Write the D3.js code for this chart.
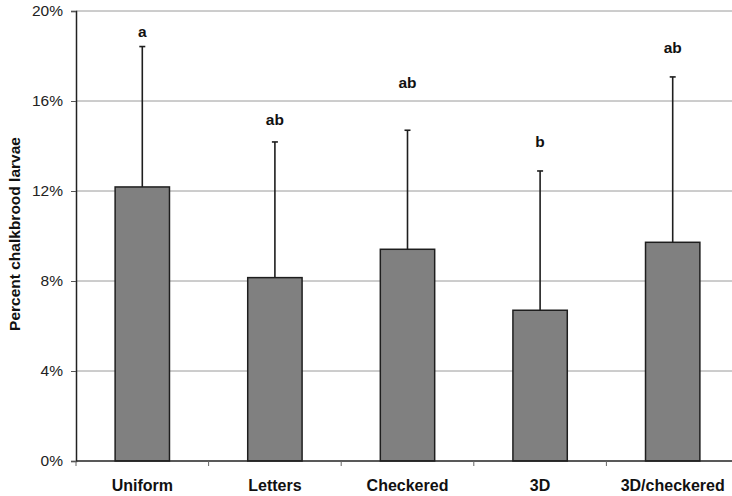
<!DOCTYPE html>
<html lang="en">
<head>
    <meta charset="UTF-8">
    <title>Percent chalkbrood larvae</title>
    <script src="https://d3js.org/d3.v7.min.js"></script>
    <style>
        body { margin: 0; background: #fff; }
        svg { display: block; font-family: "Liberation Sans", Arial, sans-serif; }
        .grid line { stroke: #9a9a9a; stroke-width: 1; }
        .bar { fill: #808080; stroke: #1e1e1e; stroke-width: 1.5; }
        .err { stroke: #1e1e1e; stroke-width: 1.6; fill: none; }
    </style>
</head>
<body>
    <svg class="chart"></svg>
    <script>
        // data
        var categories = ['Uniform', 'Letters', 'Checkered', '3D', '3D/checkered'];
        var means = [12.18, 8.15, 9.41, 6.70, 9.72];
        var errTop = [18.42, 14.18, 14.70, 12.89, 17.07];
        var letters = ['a', 'ab', 'ab', 'b', 'ab'];
        var letterAt = [18.85, 14.95, 16.6, 13.95, 18.15];
        var yTicks = [0, 4, 8, 12, 16, 20];

        var width = 732, height = 496;
        var margin = { top: 11, right: -7, bottom: 35, left: 76 };

        var svg = d3.select('.chart')
            .attr('width', width)
            .attr('height', height);

        var x = d3.scaleBand()
            .domain(categories)
            .range([margin.left, width - margin.right])
            .paddingInner(0.59)
            .paddingOuter(0.295);

        var y = d3.scaleLinear()
            .domain([0, 20])
            .range([height - margin.bottom, margin.top]);

        // gridlines
        svg.append('g')
            .attr('class', 'grid')
            .selectAll('line')
            .data(yTicks.filter(d => d > 0))
            .join('line')
            .attr('x1', margin.left)
            .attr('x2', width)
            .attr('y1', d => y(d))
            .attr('y2', d => y(d));

        // bars
        svg.selectAll('.bar')
            .data(means)
            .join('rect')
            .attr('class', 'bar')
            .attr('x', (d, i) => x(categories[i]))
            .attr('width', x.bandwidth())
            .attr('y', d => y(d))
            .attr('height', d => y(0) - y(d));

        // error bars (upper only)
        var eb = svg.append('g').attr('class', 'err');
        categories.forEach(function (c, i) {
            var cx = x(c) + x.bandwidth() / 2;
            eb.append('line')
                .attr('x1', cx).attr('x2', cx)
                .attr('y1', y(means[i])).attr('y2', y(errTop[i]));
            eb.append('line')
                .attr('x1', cx - 3).attr('x2', cx + 3)
                .attr('y1', y(errTop[i])).attr('y2', y(errTop[i]));
        });

        // significance letters
        svg.selectAll('.letter')
            .data(letters)
            .join('text')
            .attr('class', 'letter')
            .attr('x', (d, i) => x(categories[i]) + x.bandwidth() / 2)
            .attr('y', (d, i) => y(letterAt[i]))
            .attr('text-anchor', 'middle')
            .attr('font-weight', 'bold')
            .attr('font-size', 15.5)
            .attr('fill', '#111')
            .text(d => d);

        // y axis
        var yAxis = svg.append('g')
            .attr('transform', 'translate(' + margin.left + ',0)')
            .call(d3.axisLeft(y).tickValues(yTicks).tickFormat(d => d + '%').tickSize(5).tickPadding(8));
        yAxis.select('.domain').attr('stroke', '#222').attr('stroke-width', 1.5);
        yAxis.selectAll('.tick line').attr('stroke', '#555');
        yAxis.selectAll('.tick text').attr('font-size', 15.5).attr('fill', '#222')
            .attr('font-family', '"Liberation Sans", Arial, sans-serif');

        // x axis baseline with ticks between categories
        var xg = svg.append('g');
        xg.append('line')
            .attr('x1', margin.left).attr('x2', width)
            .attr('y1', y(0)).attr('y2', y(0))
            .attr('stroke', '#222').attr('stroke-width', 1.5);
        var step = x.step();
        xg.selectAll('.xtick')
            .data(d3.range(categories.length + 1))
            .join('line')
            .attr('x1', i => margin.left + i * step)
            .attr('x2', i => margin.left + i * step)
            .attr('y1', y(0)).attr('y2', y(0) + 5)
            .attr('stroke', '#666');
        xg.selectAll('.xlabel')
            .data(categories)
            .join('text')
            .attr('x', d => x(d) + x.bandwidth() / 2)
            .attr('y', y(0) + 30)
            .attr('text-anchor', 'middle')
            .attr('font-weight', 'bold')
            .attr('font-size', 16)
            .attr('fill', '#111')
            .text(d => d);

        // y axis title
        svg.append('text')
            .attr('transform', 'translate(20,' + (y(10) - 2) + ') rotate(-90)')
            .attr('text-anchor', 'middle')
            .attr('font-weight', 'bold')
            .attr('font-size', 15.5)
            .attr('fill', '#111')
            .text('Percent chalkbrood larvae');
    </script>
</body>
</html>
